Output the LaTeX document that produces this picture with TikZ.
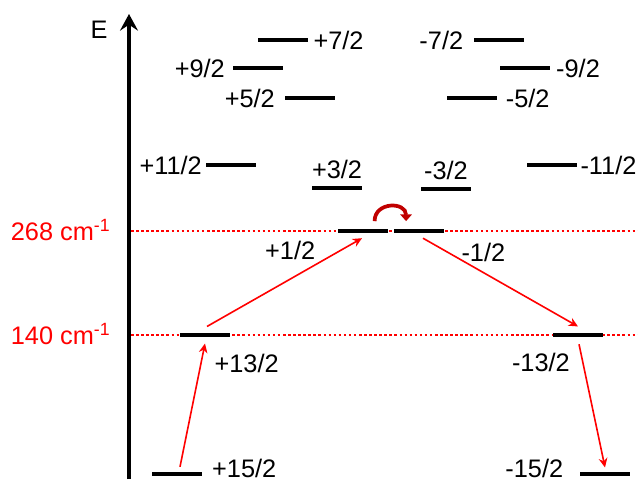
\documentclass[tikz,border=0pt]{standalone}
\usepackage{fontspec}
\setmainfont{Liberation Sans}
\usetikzlibrary{positioning,arrows.meta}
\definecolor{hopred}{RGB}{192,0,0}

\begin{document}
\begin{tikzpicture}[x=0.75pt, y=-0.75pt,
  lvl/.style={fill=black, inner sep=0pt, minimum width=37pt, minimum height=2.4pt},
  lab/.style={inner sep=1pt, font=\fontsize{19}{21}\selectfont},
  elab/.style={lab, text=red},
  axis/.style={line width=2.4pt, -{Stealth[length=12.5pt, width=13.5pt, inset=4.5pt]}},
  dotline/.style={red, line width=2.2pt, dash pattern=on 1.9pt off 1.9pt},
  trans/.style={red, line width=1.2pt, -{Stealth[length=7pt, width=6.5pt]}},
  hop/.style={hopred, line width=2.8pt, -{Triangle[length=5pt, width=8.5pt]}}]
\useasboundingbox (0,0) rectangle (638,481);
\coordinate (ebot) at (129,479); \coordinate (etop) at (129,14);
\coordinate (d268l) at (131,231); \coordinate (d268r) at (638,231);
\coordinate (d140l) at (131,335); \coordinate (d140r) at (638,335);
\draw[dotline] (d268l) -- (d268r); \draw[dotline] (d140l) -- (d140r);
\draw[axis] (ebot) -- (etop);
\node[lab] (E) at (99,30) {E};
\node[elab, anchor=base east] (e268) at (112,240) {268 cm\textsuperscript{-1}};
\node[elab, anchor=base east] (e140) at (112,344) {140 cm\textsuperscript{-1}};
\node[lvl] (p72) at (283,40) {};   \node[lvl] (m72) at (499,40) {};
\node[lvl] (p92) at (258,68) {};   \node[lvl] (m92) at (525,68) {};
\node[lvl] (p52) at (310,98) {};   \node[lvl] (m52) at (472,98) {};
\node[lvl] (p112) at (231,165) {}; \node[lvl] (m112) at (552,165) {};
\node[lvl] (p32) at (337,188) {};  \node[lvl] (m32) at (446,189) {};
\node[lvl] (p12) at (363,231) {};  \node[lvl] (m12) at (419,231) {};
\node[lvl] (p132) at (205,335) {}; \node[lvl] (m132) at (578,335) {};
\node[lvl] (p152) at (177,474) {}; \node[lvl] (m152) at (605,474) {};
\node[lab, right=3pt of p72] (lp72) {+7/2};
\node[lab, left=7pt of m72] (lm72) {-7/2};
\node[lab, left=5pt of p92] (lp92) {+9/2};
\node[lab, right=3.5pt of m92] (lm92) {-9/2};
\node[lab, left=6.5pt of p52] (lp52) {+5/2};
\node[lab, right=5.5pt of m52] (lm52) {-5/2};
\node[lab, left=2pt of p112] (lp112) {+11/2};
\node[lab, right=1.5pt of m112] (lm112) {-11/2};
\node[lab, above=4pt of p32] (lp32) {+3/2};
\node[lab, above=4pt of m32] (lm32) {-3/2};
\node[lab, below left=5pt and 16pt of p12] (lp12) {+1/2};
\node[lab, below right=6.5pt and 12pt of m12] (lm12) {-1/2};
\node[lab, anchor=north west] (lp132) at ([xshift=6pt,yshift=-12pt]p132.south) {+13/2};
\node[lab, anchor=north east] (lm132) at ([xshift=-5pt,yshift=-11pt]m132.south) {-13/2};
\node[lab, inner sep=0pt, right=7.5pt of p152, yshift=4.5pt] (lp152) {+15/2};
\node[lab, inner sep=0pt, left=12.5pt of m152, yshift=4.5pt] (lm152) {-15/2};
\draw[trans] ([xshift=2.25pt,yshift=4pt]p152.north) -- ([yshift=-5pt]p132.south);
\draw[trans] ([xshift=1.5pt,yshift=5pt]p132.north) -- ([xshift=-0.75pt,yshift=-4pt]p12.south);
\draw[trans] ([xshift=3pt,yshift=-4pt]m12.south) -- ([yshift=5pt]m132.north);
\draw[trans] ([xshift=0.75pt,yshift=-5.5pt]m132.south) -- ([yshift=3.5pt]m152.north);
\draw[hop] ([xshift=-10pt,yshift=6pt]p12.north east) to[out=90, in=90, looseness=1.6] ([xshift=9pt,yshift=6pt]m12.north west);
\end{tikzpicture}
\end{document}
